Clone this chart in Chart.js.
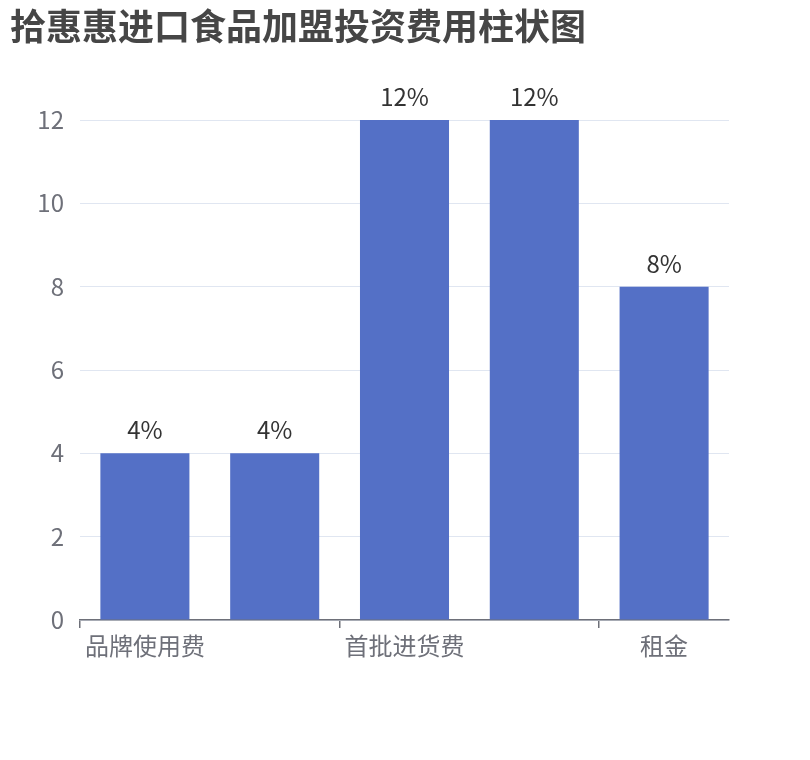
<!DOCTYPE html>
<html lang="zh-CN">
<head>
<meta charset="utf-8">
<title>拾惠惠进口食品加盟投资费用柱状图</title>
<script src="https://cdn.jsdelivr.net/npm/chart.js@4.4.1/dist/chart.umd.min.js"></script>
<style>
    html, body { margin: 0; padding: 0; background: #fff; }
    #wrap { width: 810px; height: 760px; position: relative; }
</style>
</head>
<body>
<div id="wrap"><canvas id="chart"></canvas></div>
<script>
// Data
const categories = ['品牌使用费', '加盟费', '首批进货费', '装修费', '租金'];
const costValues = [4, 4, 12, 12, 8];
const yTicks = [0, 2, 4, 6, 8, 10, 12];
const shownLabelIndexes = [0, 2, 4];

const FONT = '"Noto Sans CJK SC", "Noto Sans", sans-serif';
const AXIS_GREY = '#6E7079';

// Draws "x%" above each bar
const barLabels = {
    id: 'barLabels',
    afterDatasetsDraw(chart) {
        const ctx = chart.ctx;
        const meta = chart.getDatasetMeta(0);
        ctx.save();
        ctx.font = '24px ' + FONT;
        ctx.fillStyle = '#333333';
        ctx.textAlign = 'center';
        ctx.textBaseline = 'alphabetic';
        meta.data.forEach((bar, i) => {
            ctx.fillText(costValues[i] + '%', bar.x, bar.y - 14);
        });
        ctx.restore();
    }
};

new Chart(document.getElementById('chart'), {
    type: 'bar',
    data: {
        labels: categories,
        datasets: [{
            data: costValues,
            backgroundColor: '#5470C6',
            categoryPercentage: 1,
            barPercentage: 0.686,
        }]
    },
    options: {
        responsive: true,
        maintainAspectRatio: false,
        animation: false,
        layout: { padding: { left: 10, right: 81, top: 0, bottom: 0 } },
        plugins: {
            legend: { display: false },
            tooltip: { enabled: false },
            title: {
                display: true,
                text: '拾惠惠进口食品加盟投资费用柱状图',
                align: 'start',
                color: '#464646',
                font: { family: FONT, size: 36, weight: 'bold', lineHeight: 1.2 },
                padding: { top: 5, bottom: 71.8 }
            }
        },
        scales: {
            x: {
                afterFit: (scale) => { scale.height = 140; },
                border: { display: true, color: AXIS_GREY, width: 1.5 },
                grid: {
                    drawOnChartArea: false,
                    drawTicks: true,
                    tickLength: 8,
                    lineWidth: 1.5,
                    color: (c) => [0, 2, 4, 5].includes(c.index) ? AXIS_GREY : 'rgba(0,0,0,0)'
                },
                ticks: {
                    autoSkip: false,
                    maxRotation: 0,
                    padding: 3,
                    color: AXIS_GREY,
                    font: { family: FONT, size: 24 },
                    callback: function (v, i) {
                        return shownLabelIndexes.includes(i) ? categories[i] : '';
                    }
                }
            },
            y: {
                min: yTicks[0],
                max: yTicks[yTicks.length - 1],
                afterFit: (scale) => { scale.width = 70; },
                afterBuildTicks: (scale) => { scale.ticks = yTicks.map(v => ({ value: v })); },
                border: { display: false },
                grid: { color: '#E0E6F1', lineWidth: 1, drawTicks: false },
                ticks: {
                    padding: 16,
                    color: AXIS_GREY,
                    font: { family: FONT, size: 24 }
                }
            }
        }
    },
    plugins: [barLabels]
});
</script>
</body>
</html>
